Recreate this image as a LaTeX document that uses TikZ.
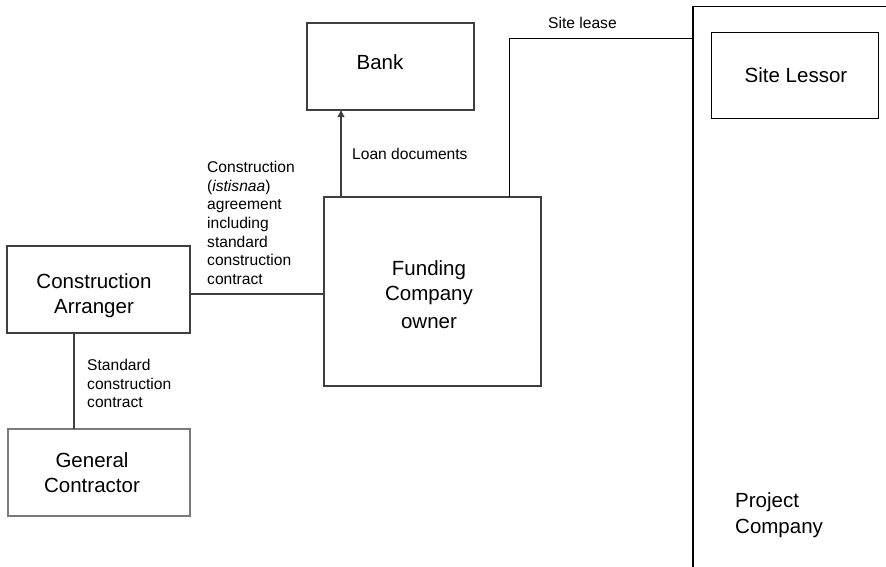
\documentclass[tikz,border=0pt]{standalone}
\usepackage{fontspec}
\setmainfont{Liberation Sans}
\usetikzlibrary{arrows.meta}
\definecolor{boxgray}{HTML}{3F3F3F}
\definecolor{lightbox}{HTML}{7A7A7A}
\tikzset{
  box/.style={draw=boxgray, line width=2.6pt, anchor=north west, inner sep=0pt, outer sep=0pt},
  thinbox/.style={draw=black, line width=1.2pt, anchor=north west, inner sep=0pt, outer sep=0pt},
  big/.style={font={\fontsize{20.5}{25}\selectfont}, inner sep=0pt},
  small/.style={font={\fontsize{15.6}{18.7}\selectfont}, inner sep=0pt, align=left},
  conn/.style={draw=boxgray, line width=2.4pt},
  thinconn/.style={draw=black, line width=1pt},
  arr/.style={draw=boxgray, line width=2.6pt, -{Triangle[length=7pt,width=6.5pt]}}
}
\begin{document}
\begin{tikzpicture}[x=1pt,y=-1pt]
\useasboundingbox (0,0) rectangle (886,566);
\clip (0,0) rectangle (886,566);
\fill[white] (0,0) rectangle (886,566);

% boxes
\node[box, minimum width=167pt, minimum height=87pt] (bank) at (307,23) {};
\node[box, minimum width=217pt, minimum height=189pt] (fund) at (324,197) {};
\node[box, minimum width=183pt, minimum height=87pt] (ca) at (7,246) {};
\node[box, draw=lightbox, minimum width=182pt, minimum height=87pt] (gc) at (8,429) {};
\node[thinbox, minimum width=260pt, minimum height=620pt] (pc) at (693,6.7) {};
\node[thinbox, line width=0.9pt, minimum width=167pt, minimum height=86pt] (sl) at (711,32) {};

% box texts
\node[big] (banktxt) at (380,62) {Bank};
\node[big, align=center] (fundtxt) at (429,294.2) {Funding\\Company\\[3pt]owner};
\node[big, align=center] (catxt) at (94,295.5) {Construction\\Arranger};
\node[big, align=center] (gctxt) at (92,473) {General\\Contractor};
\node[big] (sltxt) at (796,75) {Site Lessor};
\node[big, align=left, anchor=north west, font={\fontsize{20.5}{26}\selectfont}] (pctxt) at (735,492.3) {Project\\Company};

% connectors
\draw[arr] ([xshift=17pt]fund.north west) -- ([xshift=17pt]fund.north west |- bank.south);
\draw[thinconn] ([xshift=185pt]fund.north west) |- ([yshift=-31.3pt]pc.north west);
\draw[conn] ([yshift=-4.5pt]ca.east) -- ([yshift=-4.5pt]ca.east -| fund.west);
\draw[conn] ([xshift=67pt]ca.south west) -- ([xshift=67pt]ca.south west |- gc.north);

% connector labels
\node[small, anchor=base west] (loan) at (352,159) {Loan documents};
\node[small, anchor=base west] (lease) at (548,28) {Site lease};
\node[small, anchor=north west] (constr) at (207,160.8) {Construction\\(\textit{istisnaa})\\agreement\\including\\standard\\construction\\contract};
\node[small, anchor=north west] (std) at (87,358.8) {Standard\\construction\\contract};
\end{tikzpicture}
\end{document}
